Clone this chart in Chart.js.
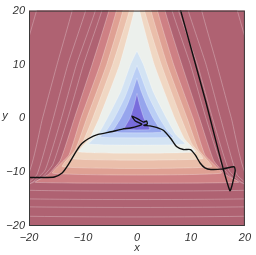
<!DOCTYPE html>
<html>
<head>
<meta charset="utf-8">
<script src="https://cdn.jsdelivr.net/npm/chart.js@4/dist/chart.umd.min.js"></script>
<style>
  html, body { margin: 0; padding: 0; background: #fff; }
  #chart { display: block; }
</style>
</head>
<body>
<canvas id="chart" width="256" height="255"></canvas>
<script>
// ===== data =====
const xTicks = [-20, -10, 0, 10, 20];
const yTicks = [-20, -10, 0, 10, 20];

// contour levels, outermost first (right half of each boundary, top -> tip)
const levelNames = ["d5", "d4", "d3", "d2", "d1", "pink", "salmon", "peach", "cream", "pale", "lb2", "lb1", "blue", "violet"];
const levelColors = [
  "rgb(175,98,114)", "rgb(175,98,114)", "rgb(175,98,114)", "rgb(175,98,114)", "rgb(175,98,114)",
  "rgb(206,128,132)", "rgb(223,160,147)", "rgb(234,190,170)", "rgb(240,215,195)", "rgb(236,240,236)",
  "rgb(211,227,243)", "rgb(186,206,245)", "rgb(150,165,237)", "rgb(120,108,220)"
];
const levelRight = [
  [[17.5, 24], [18.6, 20], [21.5, 10], [25, 0], [40, -19.1]],
  [[11.3, 24], [12, 20], [14.8, 10], [17.5, 0], [20.5, -11], [35, -17.7]],
  [[8.8, 24], [9.5, 20], [12.8, 10], [15.5, 0], [18.5, -10.4], [21, -12.6], [30, -16.2]],
  [[7, 24], [7.7, 20], [11.2, 10], [14, 0], [17, -9.6], [19.4, -11.9], [26, -14.8]],
  [[5.8, 24], [6.5, 20], [9.9, 10], [12.8, 0], [15.6, -8.6], [17.8, -11.2], [22, -13.3]],
  [[4.6, 24], [5.2, 20], [8.3, 10], [11.6, 0], [14.2, -7.8], [16.4, -10.4], [18.8, -11.9]],
  [[3.3, 24], [3.8, 20], [6.8, 10], [10.4, 0], [12.6, -6.8], [15.6, -10.2]],
  [[2.1, 24], [2.6, 20], [5.6, 10], [9.3, 0], [11.4, -5.8], [13.8, -9.0]],
  [[1.0, 24], [1.4, 20], [4.5, 10], [8.2, 0], [10.2, -4.8], [12.2, -7.5]],
  [[0.2, 24], [0.5, 20], [3.2, 10], [7, 0], [8.8, -3.8], [10.8, -6.25]],
  [[0, 12.5], [1.2, 10], [3, 5], [5.5, 0], [7.2, -3], [8.9, -4.8]],
  [[0, 9.8], [0.7, 8], [2.2, 4], [4.2, 0], [5.6, -2.2], [6.8, -3.5]],
  [[0, 7.5], [0.8, 5], [2, 2], [3, 0], [4, -1.6], [4.6, -2.6]],
  [[0, 4.6], [0.5, 2.5], [1.3, 0], [2.1, -1.4], [2.4, -2.1]]
];

// black trajectory
const pathX = [-20, -17.5, -15.3, -13.8, -12.9, -12, -11.1, -10.2, -9, -7.2, -4.8, -2.7, -1.2, 0.3, 0.9, -0.3, -0.9, 0.3, 1.2, 1.8, 1.9, 1.3, 2.4, 3.6, 5.0, 6.3, 7.4, 8.6, 9.9, 10.8, 11.7, 12.6, 13.7, 15.9, 18.0, 18.2, 17.2, 12.7, 8.1, 7.0];
const pathY = [-11.0, -11.0, -10.9, -10.1, -8.9, -7.4, -5.9, -4.7, -3.8, -3.0, -2.5, -2.0, -1.8, -1.4, -1.1, -0.5, 0.4, -0.2, -0.7, -0.5, -1.1, -1.3, -1.4, -1.7, -2.3, -3.8, -5.3, -5.8, -5.8, -6.8, -8.3, -9.2, -9.5, -9.4, -9.0, -9.8, -13.4, 3.3, 20, 24];

// ===== build datasets =====
function polygonFor(right) {
  const left = right.slice().reverse().map(([x, y]) => ({ x: -x, y }));
  const pts = right.map(([x, y]) => ({ x, y })).concat(left);
  pts.push({ x: right[0][0], y: right[0][1] });
  return pts;
}

const datasets = [];

datasets.push({
  data: pathX.map((x, i) => ({ x, y: pathY[i] })),
  borderColor: "#111",
  borderWidth: 1.4,
  pointRadius: 0,
  tension: 0.2,
  fill: false,
  clip: 0,
});

// innermost level drawn last (on top), so push in reverse
for (let i = levelRight.length - 1; i >= 0; i--) {
  datasets.push({
    label: levelNames[i],
    data: polygonFor(levelRight[i]),
    backgroundColor: levelColors[i],
    borderColor: "rgba(255,255,255,0.35)",
    borderWidth: 0.8,
    pointRadius: 0,
    tension: 0.15,
    fill: "shape",
    clip: 0,
  });
}

const tickFont = { family: "'Liberation Sans', Arial, sans-serif", size: 11, style: "italic" };
const fmt = (v) => (v < 0 ? "\u2212" + Math.abs(v) : String(v));

const framePlugin = {
  id: "frame",
  beforeDatasetsDraw(chart) {
    const { ctx, chartArea: a } = chart;
    ctx.save();
    ctx.fillStyle = levelColors[0];
    ctx.fillRect(a.left, a.top, a.right - a.left, a.bottom - a.top);
    ctx.restore();
  },
  afterDraw(chart) {
    const { ctx, chartArea: a } = chart;
    ctx.save();
    ctx.strokeStyle = "#3a3a3a";
    ctx.lineWidth = 1;
    ctx.strokeRect(a.left + 0.5, a.top + 0.5, a.right - a.left - 1, a.bottom - a.top - 1);
    ctx.fillStyle = "#333";
    ctx.font = "italic 11px 'Liberation Sans', Arial, sans-serif";
    ctx.textAlign = "center";
    ctx.textBaseline = "middle";
    ctx.fillText("y", 5, 116);
    ctx.restore();
  },
};

new Chart(document.getElementById("chart"), {
  type: "line",
  data: { datasets },
  options: {
    responsive: false,
    animation: false,
    events: [],
    layout: { padding: { top: 5, right: 5, left: 0, bottom: 0 } },
    plugins: { legend: { display: false }, tooltip: { enabled: false } },
    scales: {
      x: {
        type: "linear",
        min: -20,
        max: 20,
        afterBuildTicks: (s) => { s.ticks = xTicks.map((v) => ({ value: v })); },
        ticks: { callback: fmt, font: tickFont, color: "#333", padding: 5, maxRotation: 0 },
        grid: { display: false, drawTicks: false },
        border: { display: false },
        title: { display: true, text: "x", font: tickFont, color: "#333", padding: { top: 0, bottom: 0 } },
        afterFit: (s) => { s.height = 29; },
      },
      y: {
        type: "linear",
        min: -20,
        max: 20,
        afterBuildTicks: (s) => { s.ticks = yTicks.map((v) => ({ value: v })); },
        ticks: { callback: fmt, font: tickFont, color: "#333", padding: 4 },
        grid: { display: false, drawTicks: false },
        border: { display: false },
        afterFit: (s) => { s.width = 29; },
      },
    },
  },
  plugins: [framePlugin],
});
</script>
</body>
</html>
